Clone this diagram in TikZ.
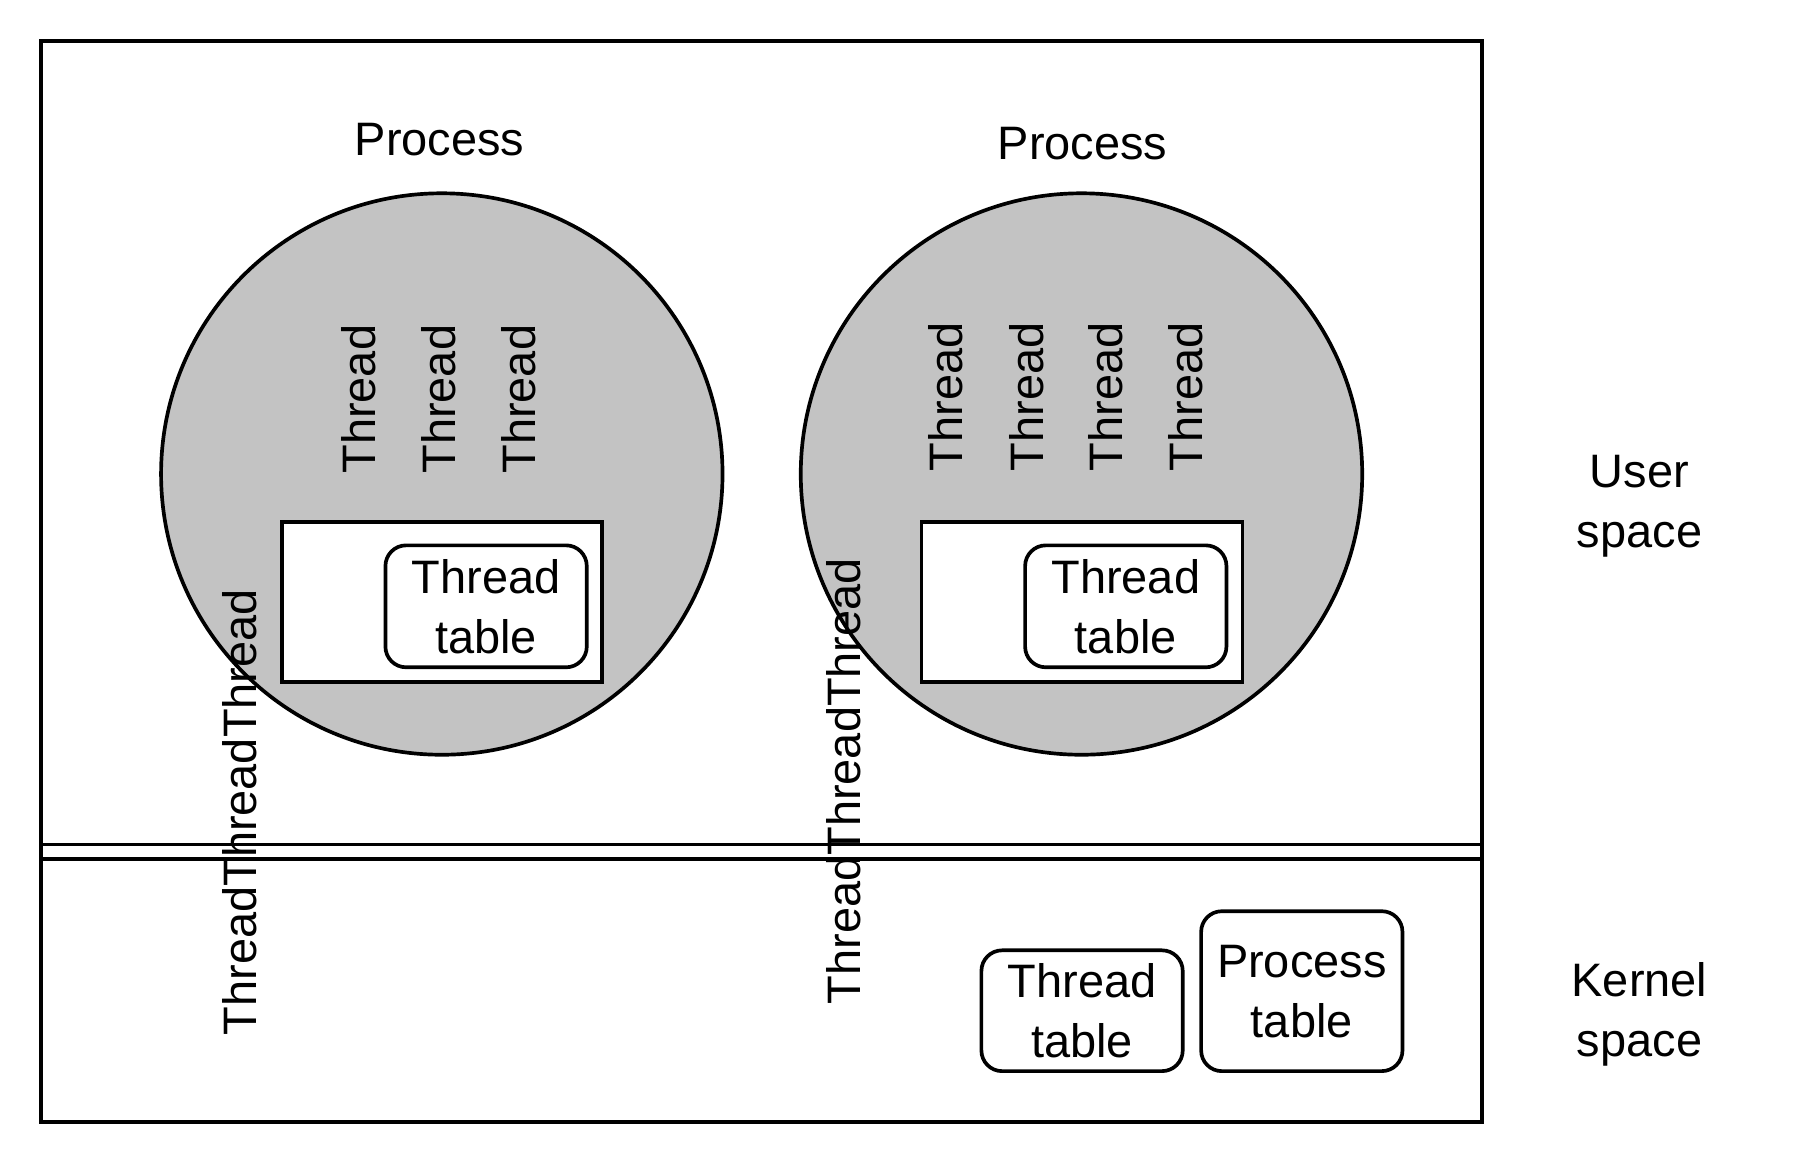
\documentclass[tikz,border=0pt]{standalone}
\usepackage{fontspec}
\setmainfont{Liberation Sans}
\usetikzlibrary{positioning}
\definecolor{procgray}{RGB}{195,195,195}

\begin{document}
\begin{tikzpicture}[x=0.5pt,y=-0.5pt,
	font=\fontsize{20.4pt}{26pt}\selectfont,
	box/.style={draw,line width=1.6pt,inner sep=0pt,align=center},
	tablebox/.style={box,rounded corners=9pt,fill=white,minimum width=87.5pt,minimum height=53pt},
	proc/.style={circle,draw,line width=1.6pt,fill=procgray,minimum size=244pt,inner sep=0pt},
	thread/.style={rotate=90,inner sep=0pt}]
	\useasboundingbox (0,0) rectangle (1568,1012);
	% user and kernel space
	\draw[line width=1.7pt] (36,36) node (outer) {} rectangle (1288,975);
	\draw[line width=1.7pt] (36,734) coordinate (ul) -- (1288,734) coordinate (ur);
	\draw[line width=1.7pt] (36,747) coordinate (kl) -- (1288,747) coordinate (kr);
	\draw (1425,440) node (user) [align=center] {User\\space};
	\draw (1425,882) node (kernel) [align=center] {Kernel\\space};
	% first process
	\draw (382,121) node (p1label) {Process};
	\draw (384,412) node (p1) [proc] {};
	\foreach \i/\x in {1/312,2/381,3/451} {
		\draw (\x,347) node (t1\i) [thread] {Thread};
	};
	\draw (384,523.5) node (rt1) [box,fill=white,minimum width=139pt,minimum height=69.5pt] {};
	\draw (422.5,527) node (tt1) [tablebox] {Thread\\table};
	% second process
	\draw (941,125) node (p2label) {Process};
	\draw (940,412) node (p2) [proc] {};
	\foreach \i/\x in {1/822,2/892,3/961,4/1031} {
		\draw (\x,345) node (t2\i) [thread] {Thread};
	};
	\draw (940.5,523.5) node (rt2) [box,fill=white,minimum width=139.5pt,minimum height=69.5pt] {};
	\draw (978.5,527) node (tt2) [tablebox] {Thread\\table};
	% stacked threads
	\draw (208,706) node (s1) [thread] {ThreadThreadThread};
	\draw (733,679) node (s2) [thread] {ThreadThreadThread};
	% kernel tables
	\draw (940.5,878.5) node (ktt) [tablebox,minimum height=52.5pt] {Thread\\table};
	\draw (1131.5,861.5) node (kpt) [tablebox,minimum height=69.5pt] {Process\\table};
\end{tikzpicture}
\end{document}
